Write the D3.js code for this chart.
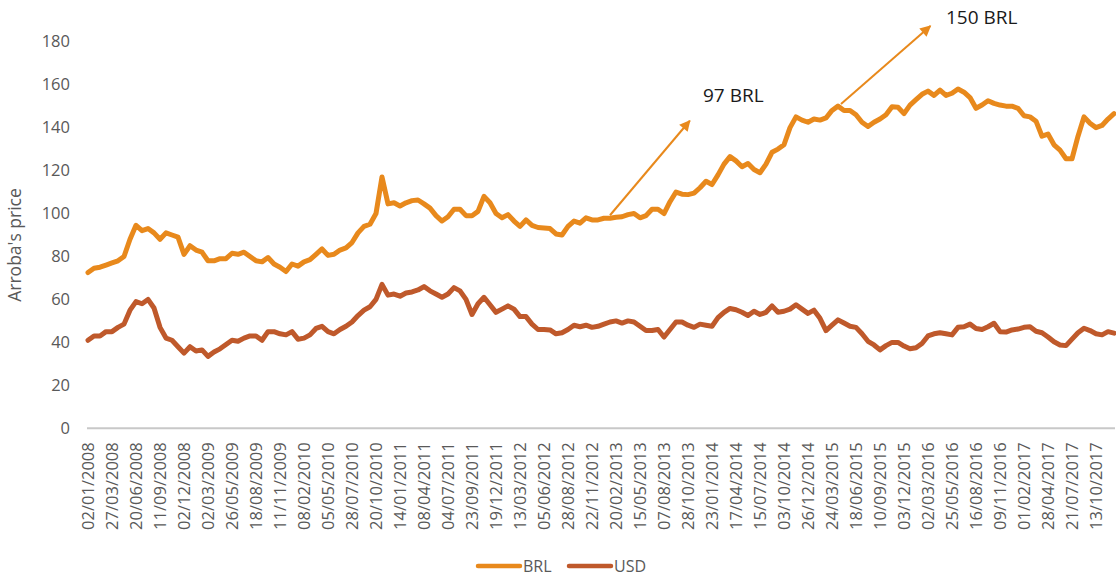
<!DOCTYPE html>
<html><head><meta charset="utf-8">
<script src="https://cdn.jsdelivr.net/npm/d3@7"></script>
<style>
html,body{margin:0;padding:0;background:#fff;}
svg{display:block;font-family:"Open Sans",sans-serif;}
</style></head>
<body><svg id="chart" width="1116" height="578"></svg>
<script>
// x-axis category labels (one every 4 samples; each sample ≈ 15 trading days)
const tickLabels = ["02/01/2008","27/03/2008","20/06/2008","11/09/2008","02/12/2008","02/03/2009","26/05/2009","18/08/2009","11/11/2009","08/02/2010","05/05/2010","28/07/2010","20/10/2010","14/01/2011","08/04/2011","04/07/2011","23/09/2011","19/12/2011","13/03/2012","05/06/2012","28/08/2012","22/11/2012","20/02/2013","15/05/2013","07/08/2013","28/10/2013","23/01/2014","17/04/2014","15/07/2014","03/10/2014","26/12/2014","24/03/2015","18/06/2015","10/09/2015","03/12/2015","02/03/2016","25/05/2016","16/08/2016","09/11/2016","01/02/2017","28/04/2017","21/07/2017","13/10/2017"];
const samplesPerLabel = 4;

const brl = [72.5,74.5,75,76,77,78,80,88,94.5,92,93,91,88,91,90,89,81,85,83,82,78,78,79,79,81.5,81,82,80,78,77.5,79.5,76.5,75,73,76.5,75.5,77.5,78.5,81,83.5,80.5,81,83,84,86.5,91,94,95,100,117,104.5,105,103.5,105,106,106.3,104.5,102.5,99,96.5,98.5,102,102,99,99,101,108,105,100,98,99.5,96.5,94,97,94.5,93.5,93.3,93,90.5,90,94,96.5,95.5,98,97,97,97.8,97.8,98.3,98.5,99.5,100,98,99,102,102,100,105.5,110,109,108.8,109.5,112,115,113.5,118,123,126.5,124.5,121.8,123.3,120.5,119,123,128.5,130,132,140,145,143.5,142.5,144,143.5,144.5,148,150,148,148,146,142.5,140.5,142.5,144,146,149.7,149.5,146.5,150.5,153,155.5,157,155,157.5,155,156,158,156.5,154,149,150.5,152.5,151.3,150.5,150,150,149,145.5,145,143,136,137,132,129.5,125.5,125.5,136,145,142,140,141,144,146.5];

const usd = [41,43,43,45,45,47,48.5,55,59,58,60,56,47,42,41,38,35,38,36,36.5,33.5,35.5,37,39,41,40.5,42,43,43,41,45,45,44,43.5,45,41.5,42,43.5,46.5,47.5,45,44,46,47.5,49.5,52.5,55,56.6,60,67,62,62.5,61.5,63,63.5,64.4,66,64,62.5,61,62.5,65.5,64,60,53,58,61,57.5,54,55.5,57,55.5,52,52,48.5,46,46,45.8,44,44.5,46,48,47.3,48,47,47.5,48.5,49.5,50,49,50,49.5,47.5,45.5,45.5,46,42.5,46,49.5,49.5,48,47,48.5,48,47.5,51.5,54,55.8,55.2,54,52.5,54.5,53,54,57,54,54.5,55.5,57.5,55.5,53.5,55,51.2,45.5,48,50.5,49,47.5,47,44,40.5,38.8,36.5,38.5,40,40,38.3,37,37.5,39.5,43,44,44.5,44,43.5,47,47.3,48.5,46.5,46,47.3,48.9,45,44.8,45.8,46.2,47,47.3,45.2,44.5,42.5,40.3,38.8,38.5,41.5,44.5,46.6,45.5,44,43.5,45,44.3];

const yTicks = [0,20,40,60,80,100,120,140,160,180];
const seriesNames = ["BRL","USD"];
// annotation arrows in data space: [sample index, value]
const annotations = [
  {label:"97 BRL", from:[87,99.2], to:[100.3,143.2], text:[102.5,151.9]},
  {label:"150 BRL", from:[125.5,151], to:[140.4,187.3], text:[143,188.3]}
];

const colors = {BRL:"#E8891C", USD:"#BF592B"};
const svg = d3.select("#chart");
const x = d3.scaleLinear().domain([0, brl.length-1]).range([88, 1114]);
const y = d3.scaleLinear().domain([0,180]).range([428.3, 41.7]);

// y axis labels
const yAxis = d3.axisLeft(y).tickValues(yTicks).tickSize(0).tickPadding(0);
const gy = svg.append("g").attr("transform","translate(70,0)").call(yAxis);
gy.select(".domain").remove();
gy.selectAll("text").attr("font-family","Open Sans").attr("font-size",16.5).attr("fill","#595959");

// x axis
const tickIdx = tickLabels.map((d,i)=>i*samplesPerLabel);
const xAxis = d3.axisBottom(x).tickValues(tickIdx).tickFormat((d,i)=>tickLabels[i]).tickSize(0).tickPadding(0);
const gx = svg.append("g").attr("transform","translate(0,428.3)").call(xAxis);
gx.select(".domain").attr("stroke","#C8C8C8").attr("stroke-width",2)
  .attr("d", `M${x(0)-1},0H${x(brl.length-1)+1}`);
gx.selectAll("text")
  .attr("font-family","Open Sans").attr("font-size",16.5).attr("fill","#595959")
  .attr("text-anchor","end").attr("transform","rotate(-90)")
  .attr("x",-14).attr("y",0).attr("dy","0.36em");

// y title
svg.append("text").attr("transform","translate(21,245) rotate(-90)")
  .attr("text-anchor","middle").attr("font-size",17.5).attr("fill","#595959").text("Arroba's price");

// lines
const line = d3.line().x((d,i)=>x(i)).y(d=>y(d)).curve(d3.curveLinear);
[["BRL",brl],["USD",usd]].forEach(([n,data])=>{
  svg.append("path").datum(data).attr("d",line).attr("fill","none")
    .attr("stroke",colors[n]).attr("stroke-width",5)
    .attr("stroke-linejoin","round").attr("stroke-linecap","round");
});

// arrows
const defs = svg.append("defs");
defs.append("marker").attr("id","ah").attr("viewBox","0 0 10 10")
  .attr("refX",9).attr("refY",5).attr("markerWidth",6.5).attr("markerHeight",5.5)
  .attr("markerUnits","strokeWidth").attr("orient","auto")
  .append("path").attr("d","M0,0L10,5L0,10z").attr("fill",colors.BRL);
annotations.forEach(a=>{
  svg.append("line").attr("x1",x(a.from[0])).attr("y1",y(a.from[1]))
    .attr("x2",x(a.to[0])).attr("y2",y(a.to[1]))
    .attr("stroke",colors.BRL).attr("stroke-width",2).attr("marker-end","url(#ah)");
  svg.append("text").attr("x",x(a.text[0])).attr("y",y(a.text[1]))
    .attr("font-size",19).attr("fill","#1a1a1a").text(a.label);
});

// legend
const leg = svg.append("g");
const legItems = [{n:"BRL",x0:478},{n:"USD",x0:569}];
legItems.forEach(it=>{
  leg.append("line").attr("x1",it.x0).attr("x2",it.x0+42).attr("y1",566).attr("y2",566)
    .attr("stroke",colors[it.n]).attr("stroke-width",4.5).attr("stroke-linecap","round");
  leg.append("text").attr("x",it.x0+45).attr("y",566).attr("dy","0.36em")
    .attr("font-size",16).attr("fill","#595959").text(it.n);
});
</script>
</body></html>
